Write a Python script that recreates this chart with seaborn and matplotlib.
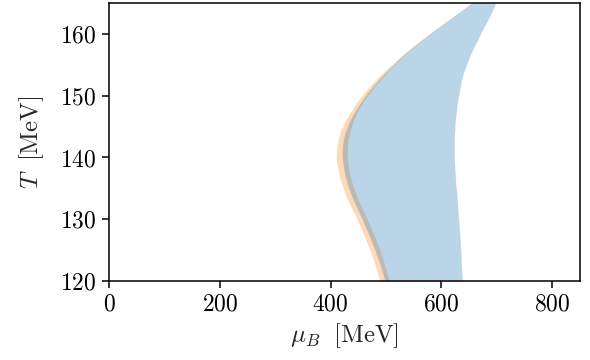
import numpy as np
import pandas as pd
import matplotlib
matplotlib.use("Agg")
import matplotlib.pyplot as plt
import seaborn as sns

# Temperature grid [MeV]
T = [120, 122.5, 125, 127.5, 130, 132.5, 134, 135.5, 137, 138.5,
     140, 141.5, 143, 144.5, 146, 147.5, 149, 150.5, 152, 153.5,
     155, 157, 159, 161, 163, 165]

# Orange band edges (mu_B [MeV])
orange_left = [489, 481, 471, 460, 448, 434, 427, 421, 416, 412,
               410, 411, 414, 419, 427, 437, 448, 461, 476, 492,
               510, 535, 563, 593, 624, 654]
orange_right = [506, 498, 489, 478, 466, 453, 446, 440, 435, 432,
                430, 430, 432, 436, 441, 449, 459, 471, 484, 499,
                515, 539, 566, 595, 626, 657]

# Blue band edges (mu_B [MeV])
blue_left = [498, 490, 480, 469, 457, 444, 437, 431, 426, 423,
             421, 421, 423, 428, 435, 444, 455, 467, 481, 496,
             513, 537, 565, 594, 625, 656]
blue_right = [638, 636, 635, 633, 631, 629, 628, 626, 625, 624,
              623, 623, 623, 624, 625, 627, 629, 632, 635, 639,
              645, 654, 665, 676, 688, 698]

xticks = [0, 200, 400, 600, 800]
yticks = [120, 130, 140, 150, 160]

sns.set_theme(style="ticks")
plt.rcParams.update({
    "font.family": ["cmr10", "DejaVu Serif"],
    "mathtext.fontset": "cm",
    "axes.formatter.use_mathtext": True,
    "axes.unicode_minus": False,
    "axes.linewidth": 1.1,
    "xtick.major.width": 1.1,
    "ytick.major.width": 1.1,
    "xtick.major.size": 5,
    "ytick.major.size": 5,
    "xtick.color": "black",
    "ytick.color": "black",
    "axes.edgecolor": "black",
})

df = pd.DataFrame({"T": T, "ol": orange_left, "or": orange_right,
                   "bl": blue_left, "br": blue_right})

pal = sns.color_palette("tab10")
fig = plt.figure(figsize=(5.9, 3.6), dpi=100)
ax = fig.add_axes([0.1847, 0.2194, 0.7983, 0.7723])

ax.fill_betweenx(df["T"], df["ol"], df["or"], color=pal[1], alpha=0.3, lw=0)
ax.fill_betweenx(df["T"], df["bl"], df["br"], color=pal[0], alpha=0.3, lw=0)

ax.set_xlim(0, 850)
ax.set_ylim(120, 165)
ax.set_xticks(xticks)
ax.set_yticks(yticks)
ax.set_xticklabels([f"${v}$" for v in xticks], fontsize=17)
ax.set_yticklabels([f"${v}$" for v in yticks], fontsize=17)
ax.set_xlabel(r"$\mu_B\ \;\mathrm{[MeV]}$", fontsize=18, labelpad=4)
ax.set_ylabel(r"$T\ \;\mathrm{[MeV]}$", fontsize=18, labelpad=10)
ax.tick_params(direction="out", pad=4)

fig.savefig("out.png", dpi=100)
